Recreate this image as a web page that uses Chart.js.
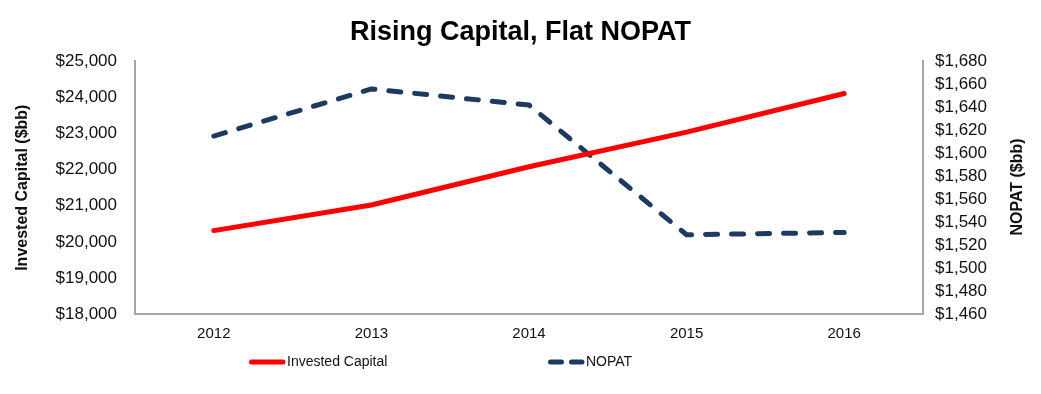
<!DOCTYPE html>
<html>
<head>
<meta charset="utf-8">
<script src="https://cdn.jsdelivr.net/npm/chart.js@4/dist/chart.umd.min.js"></script>
<style>
  body { margin: 0; background: #fff; }
  #wrap { width: 1041px; height: 394px; }
</style>
</head>
<body>
<div id="wrap"><canvas id="chart"></canvas></div>
<script>
const years = ['2012', '2013', '2014', '2015', '2016'];
const investedCapital = [20310, 21020, 22080, 23040, 24110];
const nopat = [1615, 1656, 1642, 1529, 1531];

const FONT = "'Liberation Sans', Arial, sans-serif";
const AXIS_GREY = '#A6A6A6';
const TEXT = '#111';

function money(v) {
    return '$' + Number(v).toLocaleString('en-US');
}

// legend + right axis title drawn by hand (Excel style)
const extras = {
    id: 'extras',
    afterDraw(chart) {
        const ctx = chart.ctx;
        ctx.save();
        // right axis title, reading bottom to top
        ctx.translate(1018, 187);
        ctx.rotate(-Math.PI / 2);
        ctx.font = 'bold 16px ' + FONT;
        ctx.fillStyle = TEXT;
        ctx.textAlign = 'center';
        ctx.textBaseline = 'middle';
        ctx.fillText('NOPAT ($bb)', 0, 0);
        ctx.restore();

        const spots = [249, 548];
        const y = 362;
        chart.data.datasets.forEach((ds, i) => {
            const x = spots[i];
            ctx.save();
            ctx.strokeStyle = ds.borderColor;
            ctx.lineWidth = ds.borderWidth;
            ctx.lineCap = 'round';
            ctx.setLineDash(ds.borderDash ? [11, 10] : []);
            ctx.beginPath();
            ctx.moveTo(x + 2.5, y);
            ctx.lineTo(x + 34, y);
            ctx.stroke();
            ctx.restore();
            ctx.font = '14px ' + FONT;
            ctx.fillStyle = TEXT;
            ctx.textBaseline = 'middle';
            ctx.fillText(ds.label, x + 38, y);
        });
    }
};

const ctx = document.getElementById('chart').getContext('2d');
new Chart(ctx, {
    type: 'line',
    data: {
        labels: years,
        datasets: [
            {
                label: 'Invested Capital',
                data: investedCapital,
                yAxisID: 'y',
                borderColor: '#FF0000',
                borderWidth: 5,
                borderCapStyle: 'round',
                borderJoinStyle: 'round',
                pointRadius: 0,
                tension: 0
            },
            {
                label: 'NOPAT',
                data: nopat,
                yAxisID: 'y1',
                borderColor: '#1F3A60',
                borderWidth: 5,
                borderDash: [12, 14],
                borderCapStyle: 'round',
                borderJoinStyle: 'round',
                pointRadius: 0,
                tension: 0
            }
        ]
    },
    options: {
        responsive: true,
        maintainAspectRatio: false,
        animation: false,
        layout: { padding: 0 },
        plugins: {
            legend: { display: false },
            tooltip: { enabled: false },
            title: {
                display: true,
                text: 'Rising Capital, Flat NOPAT',
                color: '#000',
                font: { family: FONT, size: 27, weight: 'bold', lineHeight: 1.2 },
                padding: { top: 16, bottom: 13 }
            }
        },
        scales: {
            x: {
                offset: true,
                grid: { display: false, drawTicks: false },
                border: { display: true, color: AXIS_GREY, width: 2 },
                ticks: { color: TEXT, font: { family: FONT, size: 15 }, padding: 11 },
                afterFit(scale) { scale.height = 80; }
            },
            y: {
                position: 'left',
                min: 18000,
                max: 25000,
                grid: { display: false, drawTicks: false },
                border: { display: true, color: AXIS_GREY, width: 2 },
                ticks: {
                    stepSize: 1000,
                    autoSkip: false,
                    color: TEXT,
                    padding: 18,
                    font: { family: FONT, size: 17 },
                    callback: v => money(v)
                },
                title: {
                    display: true,
                    text: 'Invested Capital ($bb)',
                    color: TEXT,
                    font: { family: FONT, size: 16, weight: 'bold', lineHeight: 1.2 },
                    padding: { top: 13, bottom: 0 }
                },
                afterFit(scale) { scale.width = 135; }
            },
            y1: {
                position: 'right',
                min: 1460,
                max: 1680,
                grid: { display: false, drawTicks: false },
                border: { display: true, color: AXIS_GREY, width: 2 },
                ticks: {
                    stepSize: 20,
                    autoSkip: false,
                    color: TEXT,
                    padding: 12,
                    font: { family: FONT, size: 17 },
                    callback: v => money(v)
                },
                afterFit(scale) { scale.width = 118; }
            }
        }
    },
    plugins: [extras]
});
</script>
</body>
</html>
